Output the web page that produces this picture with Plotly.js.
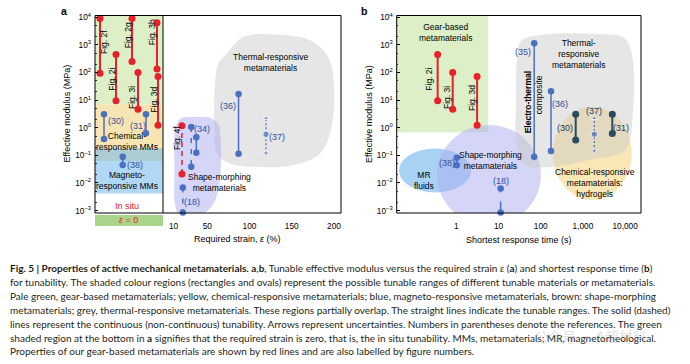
<!DOCTYPE html>
<html><head><meta charset="utf-8">
<script src="https://cdn.plot.ly/plotly-3.0.1.min.js"></script>
<style>html,body{margin:0;padding:0;background:#fff}#chart{width:690px;height:364px}</style>
</head><body><div id="chart"></div>
<script>
// ================= DATA =================
// Panel a — in situ column (strain = 0); slot = order inside the column
const gearA_labels = ['Fig. 2f','Fig. 2i','Fig. 2g','Fig. 3i','Fig. 3h','Fig. 3d'];
const gearA_slot   = [5, 21, 37, 43, 62, 63];
const gearA_max    = [9000, 450, 9000, 100, 6300, 72];
const gearA_min    = [93, 9.5, 250, 4.7, 133, 1.22];

const insituA_refs = ['(30)','(31)','(38)'];
const insituA_slot = [9, 51, 27.7];
const insituA_max  = [3.1, 3.1, 0.089];
const insituA_min  = [0.39, 0.63, 0.045];

// Panel a — strain-driven (required strain, %)
const fig4f_strain = 20;   const fig4f_range = [0.021, 1.18];     // non-continuous (red)
const contA_refs   = ['(34)','(36)'];
const contA_strain = [37, 87];
const contA_max    = [0.45, 16.6];
const contA_min    = [0.125, 0.115];
const discA_refs   = ['(34)','(18)'];
const discA_strain = [31, 21];
const discA_max    = [1.06, 0.0068];
const discA_min    = [0.039, 0.00085];
const uncA_ref = '(37)'; const uncA_strain = 119.5; const uncA_mid = 0.58; const uncA_lo = 0.12; const uncA_hi = 2.2;

// Panel b — shortest response time (s)
const gearB_labels = ['Fig. 2i','Fig. 3i','Fig. 3d'];
const gearB_time   = [0.36, 0.82, 3.1];
const gearB_max    = [450, 100, 72];
const gearB_min    = [9.5, 4.7, 1.22];
const blueB_refs   = ['(35)','(36)','(38)'];
const blueB_time   = [70, 175, 1.02];
const blueB_max    = [1135, 21, 0.081];
const blueB_min    = [0.089, 0.144, 0.044];
const hydroB_refs  = ['(30)','(31)'];
const hydroB_time  = [673, 4970];
const hydroB_max   = [3.1, 3.1];
const hydroB_min   = [0.36, 0.62];
const discB_ref = '(18)'; const discB_time = 11.2; const discB_range = [0.00085, 0.0063];
const uncB_ref = '(37)'; const uncB_time = 1860; const uncB_mid = 0.58; const uncB_lo = 0.144; const uncB_hi = 2.2;

// Shaded regions
const insituBand_names = ['gear-based','chemical-responsive','magneto-responsive'];
const insituBand_lo = [7, 0.063, 0.0042];
const insituBand_hi = [1e5, 7, 0.18];
const thermalA_strain = [58.3, 59.1, 63.0, 72.9, 92.6, 132.1, 171.6, 193.2, 200, 197.2, 183.4, 151.8, 112.4, 76.9, 61.1, 58.3];
const thermalA_mod    = [1.07, 40, 211, 485, 1936, 2366, 1472, 366, 40, 1.07, 0.117, 0.044, 0.038, 0.051, 0.117, 1.07];
const shapeA_strain = [11.75, 17.7, 35.4, 53.2, 62.7, 65.9, 65.6, 62.7, 55.6, 44.9, 35.4, 17.7, 11.75, 11.2, 11.75];
const shapeA_mod    = [0.83, 2.07, 2.44, 2.25, 1.36, 0.36, 0.024, 0.0048, 0.0015, 0.00075, 0.0006, 0.0006, 0.0017, 0.03, 0.83];
const gearRegionB_time = [0.01, 5.7];
const gearRegionB_mod  = [0.68, 1e5];
const thermalB_time = [25.9, 27.4, 34.0, 96, 2541, 9419, 14555, 15380, 9931, 1472, 166, 42.4, 27.4, 25.9];
const thermalB_mod  = [10, 282, 1377, 2270, 2466, 1766, 428, 4.3, 0.156, 0.068, 0.038, 0.045, 0.156, 10];
const ovalB_names = ['MR fluids','Shape-morphing','Chemical-responsive hydrogels'];
const ovalB_t0 = [0.0437, 0.348, 193];
const ovalB_t1 = [2.22, 101, 14400];
const ovalB_m0 = [0.00452, 0.0003, 0.00242];
const ovalB_m1 = [0.177, 1.25, 5.8];

const modTicks = [0.001, 0.01, 0.1, 1, 10, 100, 1000, 10000];
const modTickText = ['10<sup>−3</sup>','10<sup>−2</sup>','10<sup>−1</sup>','10<sup>0</sup>','10<sup>1</sup>','10<sup>2</sup>','10<sup>3</sup>','10<sup>4</sup>'];
const strainTicks = [10, 50, 100, 150, 200];
const timeTicks = [1, 10, 100, 1000, 10000];
const timeTickText = ['1','10','100','1,000','10,000'];

// ================= STYLE / LAYOUT =================
const W = 690, H = 364;
const F = 'Liberation Sans, Arial, sans-serif';
const CAPF = 'Lato, Liberation Sans, sans-serif';
const RED = '#e8202a', BLUE = '#4a70c0', DARK = '#2c4b5e', LBLUE = '#34509e', LDARK = '#253a66';
const dx = (a, b) => [a / W, b / W];
const dy = (top, bot) => [1 - bot / H, 1 - top / H];

const traces = [];
function rng(xv, lo, hi, xa, ya, color, dash, ms, lw) {
  traces.push({type:'scatter', mode:'lines+markers', x:[xv, xv], y:[lo, hi], xaxis:xa, yaxis:ya,
    line:{color:color, width:lw, dash:dash}, marker:{color:color, size:ms}, cliponaxis:false,
    hoverinfo:'skip', showlegend:false});
}
function unc(xv, lo, mid, hi, xa, ya) {
  traces.push({type:'scatter', mode:'lines+markers', x:[xv, xv, xv], y:[lo, mid, hi], xaxis:xa, yaxis:ya,
    line:{color:BLUE, width:1.2, dash:'2px,2px'},
    marker:{color:BLUE, size:[5, 6.5, 5], symbol:['triangle-down','circle','triangle-up']},
    cliponaxis:false, hoverinfo:'skip', showlegend:false});
}
function blob(xs, ys, xa, ya, color) {
  traces.push({type:'scatter', mode:'lines', x:xs, y:ys, xaxis:xa, yaxis:ya, fill:'toself',
    fillcolor:color, line:{width:0, shape:'spline', smoothing:1}, hoverinfo:'skip', showlegend:false});
}

// regions (traces first so they lie under the ranges)
blob(thermalA_strain, thermalA_mod, 'x', 'y', 'rgba(200,200,200,0.45)');
blob(shapeA_strain, shapeA_mod, 'x', 'y', 'rgba(171,171,241,0.5)');
blob(thermalB_time, thermalB_mod, 'x2', 'y2', 'rgba(200,200,200,0.45)');

// panel a
gearA_slot.forEach((s, i) => rng(s, gearA_min[i], gearA_max[i], 'x3', 'y', RED, 'solid', 7, 2));
insituA_slot.forEach((s, i) => rng(s, insituA_min[i], insituA_max[i], 'x3', 'y', BLUE, 'solid', 6.5, 1.5));
rng(fig4f_strain, fig4f_range[0], fig4f_range[1], 'x', 'y', RED, '5px,4px', 7, 1.5);
contA_strain.forEach((s, i) => rng(s, contA_min[i], contA_max[i], 'x', 'y', BLUE, 'solid', 6.5, 1.5));
discA_strain.forEach((s, i) => rng(s, discA_max[i], discA_min[i], 'x', 'y', BLUE, '5px,6px', 6.5, 1.5));
unc(uncA_strain, uncA_lo, uncA_mid, uncA_hi, 'x', 'y');

// panel b
gearB_time.forEach((t, i) => rng(t, gearB_min[i], gearB_max[i], 'x2', 'y2', RED, 'solid', 7, 2));
blueB_time.forEach((t, i) => rng(t, blueB_min[i], blueB_max[i], 'x2', 'y2', BLUE, 'solid', 6.5, 1.5));
hydroB_time.forEach((t, i) => rng(t, hydroB_min[i], hydroB_max[i], 'x2', 'y2', DARK, 'solid', 7, 2));
rng(discB_time, discB_range[1], discB_range[0], 'x2', 'y2', BLUE, '4px,9px,14px', 6.5, 1.5);
unc(uncB_time, uncB_lo, uncB_mid, uncB_hi, 'x2', 'y2');

// shapes
const shapes = [];
const bandColors = ['#dcefc6', '#f6e5b2', 'rgba(111,184,237,0.55)'];
insituBand_lo.forEach((lo, i) => shapes.push({type:'rect', xref:'x3', yref:'y', x0:0, x1:68, y0:lo, y1:insituBand_hi[i],
  fillcolor:bandColors[i], line:{width:0}, layer:'below'}));
shapes.push({type:'rect', xref:'x2', yref:'y2', x0:gearRegionB_time[0], x1:gearRegionB_time[1], y0:gearRegionB_mod[0], y1:gearRegionB_mod[1],
  fillcolor:'#dcefc6', line:{width:0}, layer:'below'});
const ovalColors = ['rgba(110,180,235,0.6)', 'rgba(171,171,241,0.5)', 'rgba(245,212,125,0.55)'];
ovalB_t0.forEach((t0, i) => shapes.push({type:'circle', xref:'x2', yref:'y2', x0:t0, x1:ovalB_t1[i], y0:ovalB_m0[i], y1:ovalB_m1[i],
  fillcolor:ovalColors[i], line:{width:0}, layer:'below'}));
// eps = 0 strip
shapes.push({type:'rect', xref:'paper', yref:'paper', x0:95/W, x1:163/W, y0:1-226/H, y1:1-215/H, fillcolor:'#a9d48b', line:{width:0}, layer:'below'});
// frames
shapes.push({type:'rect', xref:'paper', yref:'paper', x0:95/W, x1:341/W, y0:1-213/H, y1:1-15.5/H, line:{color:'#000', width:1}, layer:'above'});
shapes.push({type:'line', xref:'paper', yref:'paper', x0:163/W, x1:163/W, y0:1-213/H, y1:1-15.5/H, line:{color:'#000', width:1}, layer:'above'});
shapes.push({type:'rect', xref:'paper', yref:'paper', x0:396.7/W, x1:641/W, y0:1-213/H, y1:1-15.5/H, line:{color:'#000', width:1}, layer:'above'});

// annotations (pixel positions)
const anns = [];
function ann(text, x, y, o) {
  o = o || {};
  anns.push({xref:'paper', yref:'paper', x:x / W, y:1 - y / H, text:text, showarrow:false,
    xanchor:o.xanchor || 'center', yanchor:'middle', textangle:o.angle || 0, align:o.align || 'center',
    font:{family:o.family || F, size:o.size || 8.5, color:o.color || '#000'}});
}
ann('<b>a</b>', 64, 11, {size:10.5});
ann('<b>b</b>', 364, 11, {size:10.5});
ann('Effective modulus (MPa)', 66.5, 114, {angle:-90, size:9});
ann('Effective modulus (MPa)', 369, 114, {angle:-90, size:9});
ann('Required strain, <i>ε</i> (%)', 237, 238.5, {size:9});
ann('Shortest response time (s)', 519, 239.5, {size:9});

// figure-number labels
[['Fig. 2f',104,42],['Fig. 2i',111.7,79],['Fig. 2g',128.3,35],['Fig. 3i',132,98],['Fig. 3h',151.7,32.5],['Fig. 3d',153.7,100],['Fig. 4f',177,138],
 ['Fig. 2i',428.7,79],['Fig. 3i',447.5,97.5],['Fig. 3d',472,98]].forEach(a => ann(a[0], a[1], a[2], {angle:-90, size:8.5}));
// reference labels
[['(30)',116,121,LBLUE],['(31)',138,126,LBLUE],['(38)',134.7,165.5,LBLUE],['(34)',201.7,129,LBLUE],['(18)',191.7,201.7,LBLUE],['(36)',228,106,LBLUE],['(37)',277,136.7,LBLUE],
 ['(35)',523.3,52.3,LBLUE],['(36)',560,104.3,LBLUE],['(30)',565,128.3,LDARK],['(37)',594,111,LDARK],['(31)',620.7,128.3,LDARK],['(38)',446.7,162.7,LBLUE],['(18)',501,181,LBLUE]]
 .forEach(a => ann(a[0], a[1], a[2], {size:9, color:a[3]}));
// region texts
ann('Thermal-responsive<br>metamaterials', 270, 62.5);
ann('Chemical-<br>responsive MMs', 127, 141.7);
ann('Magneto-<br>responsive MMs', 127, 180.7);
ann('In situ', 127, 205.7, {color:RED, size:9});
ann('<i>ε</i> = 0', 128, 220.5, {color:RED, size:9});
ann('Shape-morphing<br>metamaterials', 219, 182.5);
ann('Gear-based<br>metamaterials', 445, 32.5);
ann('Thermal-<br>responsive<br>metamaterials', 578.3, 54);
ann('Chemical-responsive<br>metamaterials:<br>hydrogels', 595, 183.3);
ann('Shape-morphing<br>metamaterials', 490, 160);
ann('MR<br>fluids', 424, 180);
ann('<b>Electro-thermal</b>', 528.3, 102, {angle:-90, size:8.5});
ann('composite', 539.3, 95, {angle:-90, size:8.5});

// caption
const caption = [
 '<b>Fig. 5 | Properties of active mechanical metamaterials.</b> <b>a</b>,<b>b</b>, Tunable effective modulus versus the required strain <i>ε</i> (<b>a</b>) and shortest response time (<b>b</b>)',
 'for tunability. The shaded colour regions (rectangles and ovals) represent the possible tunable ranges of different tunable materials or metamaterials.',
 'Pale green, gear-based metamaterials; yellow, chemical-responsive metamaterials; blue, magneto-responsive metamaterials, brown: shape-morphing',
 'metamaterials; grey, thermal-responsive metamaterials. These regions partially overlap. The straight lines indicate the tunable ranges. The solid (dashed)',
 'lines represent the continuous (non-continuous) tunability. Arrows represent uncertainties. Numbers in parentheses denote the references. The green',
 'shaded region at the bottom in <b>a</b> signifies that the required strain is zero, that is, the in situ tunability. MMs, metamaterials; MR, magnetorheological.',
 'Properties of our gear-based metamaterials are shown by red lines and are also labelled by figure numbers.'
];
const capY = [268, 282, 296, 310, 323.5, 337.5, 351];
caption.forEach((t, i) => ann(t, 8, capY[i], {xanchor:'left', align:'left', family:CAPF, size:10, color:'#231f20'}));
ann('公众号 · A超材料', 590, 336, {family:'Noto Sans CJK SC', size:14, color:'rgba(150,150,150,0.3)'});

const tickFont = {family:F, size:8.3, color:'#000'};
const yCommon = {type:'log', domain:dy(15.5, 213), range:[-3.087, 4.0615], tickmode:'array', tickvals:modTicks, ticktext:modTickText,
  ticks:'inside', ticklen:3, tickwidth:1, tickcolor:'#000', showgrid:false, zeroline:false, showline:false, ticklabelstandoff:3,
  minor:{ticks:'inside', ticklen:1.5, tickwidth:0.8, tickcolor:'#000', showgrid:false}, tickfont:tickFont, fixedrange:true};

const layout = {
  width:W, height:H, autosize:false, margin:{l:0, r:0, t:0, b:0}, paper_bgcolor:'#fff', plot_bgcolor:'rgba(0,0,0,0)',
  showlegend:false, hovermode:false,
  xaxis:{domain:dx(163, 341), range:[-2.45, 208.3], tickmode:'array', tickvals:strainTicks, ticks:'', showgrid:false, zeroline:false,
         showline:false, anchor:'y', tickfont:tickFont, ticklabelstandoff:7, fixedrange:true},
  xaxis3:{domain:dx(95, 163), range:[0, 68], showticklabels:false, ticks:'', showgrid:false, zeroline:false, showline:false, anchor:'y', fixedrange:true},
  yaxis:Object.assign({}, yCommon, {anchor:'x3'}),
  xaxis2:{type:'log', domain:dx(396.7, 641), range:[-1.414, 4.376], tickmode:'array', tickvals:timeTicks, ticktext:timeTickText, ticks:'',
          showgrid:false, zeroline:false, showline:false, anchor:'y2', tickfont:tickFont, ticklabelstandoff:7, fixedrange:true},
  yaxis2:Object.assign({}, yCommon, {anchor:'x2'}),
  shapes:shapes, annotations:anns
};
Plotly.newPlot('chart', traces, layout, {staticPlot:true, displayModeBar:false});
</script></body></html>
